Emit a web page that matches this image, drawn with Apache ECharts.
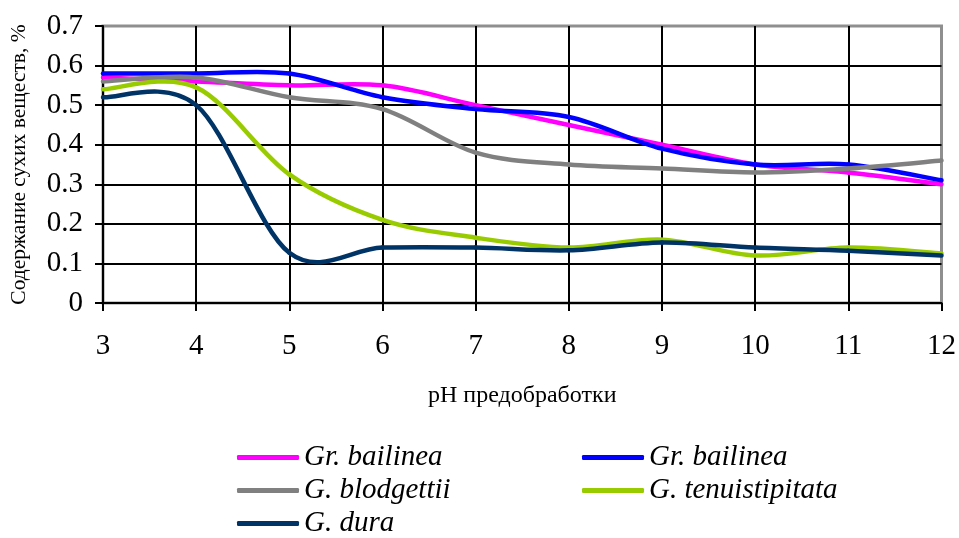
<!DOCTYPE html>
<html>
<head>
<meta charset="utf-8">
<script src="https://cdn.jsdelivr.net/npm/echarts@6/dist/echarts.min.js"></script>
<style>html,body{margin:0;padding:0;background:#fff}#c{width:959px;height:538px}</style>
</head>
<body>
<div id="c"></div>
<script>
const phValues = [3, 4, 5, 6, 7, 8, 9, 10, 11, 12];
const yTicks = [0, 0.1, 0.2, 0.3, 0.4, 0.5, 0.6, 0.7];
const seriesNames = ['Gr. bailinea', 'Gr. bailinea\u200b', 'G. blodgettii', 'G. tenuistipitata', 'G. dura'];
const grBailineaPink = [0.57, 0.56, 0.55, 0.55, 0.50, 0.45, 0.40, 0.35, 0.33, 0.30];
const grBailineaBlue = [0.58, 0.58, 0.58, 0.52, 0.49, 0.47, 0.39, 0.35, 0.35, 0.31];
const gBlodgettii   = [0.56, 0.57, 0.52, 0.49, 0.38, 0.35, 0.34, 0.33, 0.34, 0.36];
const gTenuistipitata = [0.54, 0.545, 0.325, 0.21, 0.165, 0.14, 0.16, 0.12, 0.14, 0.125];
const gDura         = [0.52, 0.50, 0.127, 0.14, 0.14, 0.133, 0.153, 0.14, 0.132, 0.12];

const colors = ['#FF00FF', '#0000FF', '#808080', '#99CC00', '#003366'];
const allData = [grBailineaPink, grBailineaBlue, gBlodgettii, gTenuistipitata, gDura];
const FONT = '"Liberation Serif", "Times New Roman", serif';
const LINE_W = 4.5;

const chart = echarts.init(document.getElementById('c'), null, {renderer: 'canvas'});
const legendText = {fontFamily: FONT, fontStyle: 'italic', fontSize: 29, color: '#000'};
const legendCommon = {
  orient: 'vertical', padding: 0, itemGap: 4, itemWidth: 62, itemHeight: 5,
  icon: 'roundRect', textStyle: legendText, selectedMode: false,
  formatter: n => n.replace('\u200b', '')
};

// Smoothed (Catmull-Rom style, like spreadsheet smoothed lines) segment between data points j and j+1
function makeRenderItem(si) {
  return function (params, api) {
    const arr = allData[si];
    const n = arr.length;
    const j = params.dataIndex;
    if (j >= n - 1) return null;
    const cl = k => Math.max(0, Math.min(n - 1, k));
    const P = k => api.coord([phValues[cl(k)], arr[cl(k)]]);
    const p0 = P(j - 1), p1 = P(j), p2 = P(j + 1), p3 = P(j + 2);
    return {
      type: 'bezierCurve',
      shape: {
        x1: p1[0], y1: p1[1], x2: p2[0], y2: p2[1],
        cpx1: p1[0] + (p2[0] - p0[0]) / 6, cpy1: p1[1] + (p2[1] - p0[1]) / 6,
        cpx2: p2[0] - (p3[0] - p1[0]) / 6, cpy2: p2[1] - (p3[1] - p1[1]) / 6
      },
      style: {stroke: colors[si], lineWidth: LINE_W, fill: null, lineCap: 'round'}
    };
  };
}

chart.setOption({
  animation: false,
  backgroundColor: '#fff',
  color: colors,
  grid: {left: 103, top: 26, right: 16, bottom: 235, show: true, borderColor: '#8f8f8f', borderWidth: 3},
  legend: [
    Object.assign({left: 237, top: 443, data: [seriesNames[0], seriesNames[2], seriesNames[4]]}, legendCommon),
    Object.assign({left: 582, top: 443, data: [seriesNames[1], seriesNames[3]]}, legendCommon)
  ],
  xAxis: {
    type: 'value', min: 3, max: 12, interval: 1,
    name: 'pH предобработки', nameLocation: 'middle', nameGap: 81,
    nameTextStyle: {fontFamily: FONT, fontSize: 24, color: '#000'},
    axisLine: {show: true, lineStyle: {color: '#000', width: 2}},
    axisTick: {show: true, inside: false, length: 8, lineStyle: {color: '#000', width: 2}},
    axisLabel: {fontFamily: FONT, fontSize: 29, color: '#000', margin: 29},
    splitLine: {show: true, showMinLine: false, showMaxLine: false, lineStyle: {color: '#000', width: 2}}
  },
  yAxis: {
    type: 'value', min: yTicks[0], max: yTicks[yTicks.length - 1], interval: 0.1,
    name: 'Содержание сухих веществ, %', nameLocation: 'middle', nameGap: 73, nameRotate: 90,
    nameTextStyle: {fontFamily: FONT, fontSize: 21.5, color: '#000'},
    axisLine: {show: true, lineStyle: {color: '#000', width: 2}},
    axisTick: {show: true, inside: false, length: 8, lineStyle: {color: '#000', width: 2}},
    axisLabel: {fontFamily: FONT, fontSize: 29, color: '#000', margin: 20,
      formatter: v => (Math.abs(v) < 1e-9 ? '0' : v.toFixed(1))},
    splitLine: {show: true, showMinLine: false, showMaxLine: false, lineStyle: {color: '#000', width: 2}}
  },
  series: seriesNames.map((name, i) => ({
    name: name, type: 'custom', renderItem: makeRenderItem(i),
    itemStyle: {color: colors[i]},
    encode: {x: 0, y: 1},
    data: phValues.map((x, j) => [x, allData[i][j]])
  }))
});
</script>
</body>
</html>
